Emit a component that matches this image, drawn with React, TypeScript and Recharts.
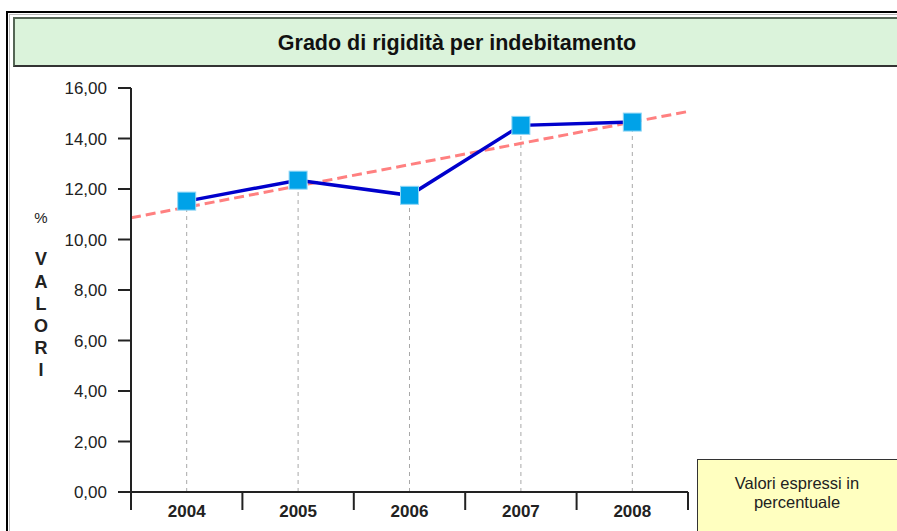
import React from "react";
import { LineChart, Line, XAxis, YAxis, ReferenceLine } from "recharts";

// values
const years = ["2004", "2005", "2006", "2007", "2008"];
const values = [11.52, 12.35, 11.75, 14.52, 14.65];
const yTicks = [0, 2, 4, 6, 8, 10, 12, 14, 16];
const xTicks = [0, 1, 2, 3, 4, 5];
// trend line as read at the left and right ends of the x axis
const trendValues = [10.86, 15.07];
const axisLetters = ["V", "A", "L", "O", "R", "I"];

const W = 897;
const H = 531;
const PLOT_LEFT = 131;
const PLOT_RIGHT = 688;
const BAND = (PLOT_RIGHT - PLOT_LEFT) / years.length;
const FONT = "'Liberation Sans', Arial, sans-serif";

const data = years.map((year, i) => ({ x: i + 0.5, year, value: values[i] }));
const trendData = trendValues.map((t, i) => ({ x: i * years.length, trend: t }));

const fmt = (v: number) => v.toFixed(2).replace(".", ",");

function YearTick(props: any) {
    const { x, y, payload } = props;
    const i = payload.value;
    if (i >= years.length) return null;
    return (
        <text
            x={x + BAND / 2}
            y={y - 1}
            dy="0.35em"
            textAnchor="middle"
            fontFamily={FONT}
            fontWeight="bold"
            fontSize={17}
            fill="#222"
        >
            {years[i]}
        </text>
    );
}

function SquareDot(props: any) {
    const { cx, cy } = props;
    if (cx == null || cy == null) return null;
    return <rect x={cx - 9} y={cy - 9} width={18} height={18} fill="#00A2E8" stroke="#8fd6f5" strokeWidth={1} />;
}

function AxisTitle() {
    return (
        <g fontFamily={FONT} fill="#222" textAnchor="middle">
            <text x={41} y={218} dy="0.35em" fontSize={15}>
                %
            </text>
            {axisLetters.map((l, i) => (
                <text key={l + i} x={41} y={259 + i * 22.2} dy="0.35em" fontSize={18} fontWeight="bold">
                    {l}
                </text>
            ))}
        </g>
    );
}

export default function App() {
    return (
        <div style={{ position: "absolute", left: 0, top: 0, width: W, height: H, overflow: "hidden", background: "#fff" }}>
            {/* outer frame */}
            <div style={{ position: "absolute", left: 6, top: 11, width: W, height: H, borderLeft: "2px solid #000", borderTop: "2px solid #000" }} />
            <div style={{ position: "absolute", left: 9, top: 14, width: W, height: H, borderLeft: "1px solid #bbb", borderTop: "1px solid #bbb" }} />
            {/* title box */}
            <div
                style={{
                    position: "absolute",
                    left: 13,
                    top: 17,
                    width: W,
                    height: 46,
                    background: "#DBF3DB",
                    borderTop: "2px solid #556655",
                    borderLeft: "2px solid #556655",
                    borderBottom: "2px solid #333",
                }}
            />
            <div
                style={{
                    position: "absolute",
                    left: 257,
                    width: 400,
                    top: 30,
                    textAlign: "center",
                    fontFamily: FONT,
                    fontWeight: "bold",
                    fontSize: 21.5,
                    lineHeight: "26px",
                    color: "#111",
                }}
            >
                Grado di rigidità per indebitamento
            </div>
            {/* note box */}
            <div
                style={{
                    position: "absolute",
                    left: 697,
                    top: 459,
                    width: 220,
                    height: 90,
                    background: "#FFFFC0",
                    border: "1px solid #333",
                }}
            />
            <div
                style={{
                    position: "absolute",
                    left: 697,
                    top: 474,
                    width: 200,
                    textAlign: "center",
                    fontFamily: FONT,
                    fontSize: 16.5,
                    lineHeight: "19px",
                    color: "#222",
                }}
            >
                Valori espressi in
                <br />
                percentuale
            </div>
            <div style={{ position: "absolute", left: 0, top: 0 }}>
                <LineChart width={W} height={H} margin={{ top: 88, right: W - PLOT_RIGHT, bottom: 0, left: 0 }}>
                    <XAxis
                        type="number"
                        dataKey="x"
                        domain={[0, years.length]}
                        ticks={xTicks}
                        interval={0}
                        height={39}
                        tickSize={18}
                        tickMargin={2}
                        axisLine={{ stroke: "#222", strokeWidth: 2 }}
                        tickLine={{ stroke: "#222", strokeWidth: 2 }}
                        tick={<YearTick />}
                        allowDataOverflow
                    />
                    <YAxis
                        type="number"
                        domain={[0, 16]}
                        ticks={yTicks}
                        interval={0}
                        width={PLOT_LEFT}
                        tickSize={13}
                        tickMargin={11}
                        tickFormatter={fmt}
                        axisLine={{ stroke: "#222", strokeWidth: 2 }}
                        tickLine={{ stroke: "#222", strokeWidth: 2 }}
                        tick={{ fontFamily: FONT, fontSize: 17, fill: "#222" }}
                        label={{ content: () => <AxisTitle /> }}
                    />
                    {data.map((d) => (
                        <ReferenceLine
                            key={d.year}
                            segment={[
                                { x: d.x, y: 0 },
                                { x: d.x, y: d.value },
                            ]}
                            stroke="#a8a8a8"
                            strokeDasharray="4 4"
                        />
                    ))}
                    <Line
                        data={trendData}
                        dataKey="trend"
                        type="linear"
                        stroke="#FF8080"
                        strokeWidth={3}
                        strokeDasharray="10 5"
                        dot={false}
                        activeDot={false}
                        isAnimationActive={false}
                    />
                    <Line
                        data={data}
                        dataKey="value"
                        type="linear"
                        stroke="#0000CC"
                        strokeWidth={3.5}
                        dot={<SquareDot />}
                        activeDot={false}
                        isAnimationActive={false}
                    />
                </LineChart>
            </div>
        </div>
    );
}
